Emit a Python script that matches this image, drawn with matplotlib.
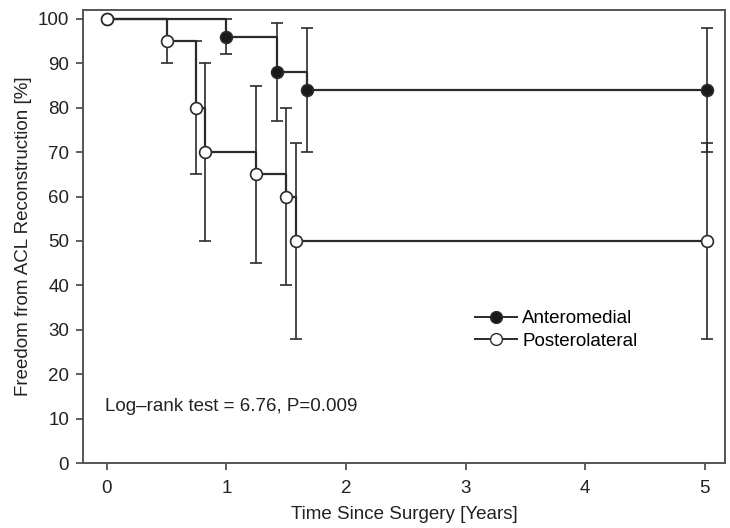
import matplotlib
matplotlib.use("Agg")
import matplotlib.pyplot as plt
from matplotlib.lines import Line2D

plt.rcParams["font.family"] = ["Liberation Sans", "DejaVu Sans"]

# Kaplan-Meier estimates with confidence limits
am_time = [0.0, 1.00, 1.42, 1.67, 5.02]
am_surv = [100, 96, 88, 84, 84]
am_lo = [100, 92, 77, 70, 70]
am_hi = [100, 100, 99, 98, 98]

pl_time = [0.0, 0.50, 0.745, 0.82, 1.25, 1.50, 1.585, 5.02]
pl_surv = [100, 95, 80, 70, 65, 60, 50, 50]
pl_lo = [100, 90, 65, 50, 45, 40, 28, 28]
pl_hi = [100, 100, 95, 90, 85, 80, 72, 72]

series_labels = ["Anteromedial", "Posterolateral"]
x_ticks = [0, 1, 2, 3, 4, 5]
y_ticks = list(range(0, 101, 10))
test_text = "Log\u2013rank test = 6.76, P=0.009"

line_col = "#2b2b2b"
fs = 13.5

fig = plt.figure(figsize=(7.30, 5.28), dpi=100)
ax = fig.add_axes([83 / 730, 1 - 463 / 528, (725 - 83) / 730, (463 - 10) / 528])


def draw_curve(t, s, lo, hi, face, z):
    ax.step(t, s, where="post", color=line_col, lw=1.6, zorder=z)
    yerr = [[si - l for si, l in zip(s[1:], lo[1:])],
            [h - si for si, h in zip(s[1:], hi[1:])]]
    ax.errorbar(t[1:], s[1:], yerr=yerr, fmt="none", ecolor=line_col,
                elinewidth=1.2, capsize=4, capthick=1.2, zorder=z)
    ax.plot(t, s, ls="none", marker="o", ms=8.5, mfc=face, mec=line_col,
            mew=1.2, zorder=z + 1)


draw_curve(am_time, am_surv, am_lo, am_hi, "#1a1a1a", 3)
draw_curve(pl_time, pl_surv, pl_lo, pl_hi, "white", 5)

ax.set_xlim(-0.2, 5.17)
ax.set_ylim(0, 102)
ax.set_xticks(x_ticks)
ax.set_yticks(y_ticks)
ax.tick_params(direction="out", length=5, width=1.2, color="#444444",
               labelsize=fs, labelcolor="#222222")
ax.tick_params(axis="x", pad=7)
ax.tick_params(axis="y", pad=5)
for sp in ax.spines.values():
    sp.set_color("#555555")
    sp.set_linewidth(1.4)

ax.set_xlabel("Time Since Surgery [Years]", fontsize=fs, color="#222222", labelpad=7)
ax.set_ylabel("Freedom from ACL Reconstruction [%]", fontsize=fs, color="#222222", labelpad=4)

ax.text(-0.02, 12.8, test_text, fontsize=fs, color="#222222", va="center", ha="left")

handles = [
    Line2D([], [], color=line_col, lw=1.4, marker="o", ms=8.5, mfc="#1a1a1a", mec=line_col),
    Line2D([], [], color=line_col, lw=1.4, marker="o", ms=8.5, mfc="white", mec=line_col),
]
ax.legend(handles, series_labels, loc="upper left", bbox_to_anchor=(0.611, 0.337),
          frameon=False, fontsize=fs, handlelength=2.2, handletextpad=0.3,
          labelspacing=0.28, borderpad=0, borderaxespad=0)

fig.savefig("out.png", dpi=100)
